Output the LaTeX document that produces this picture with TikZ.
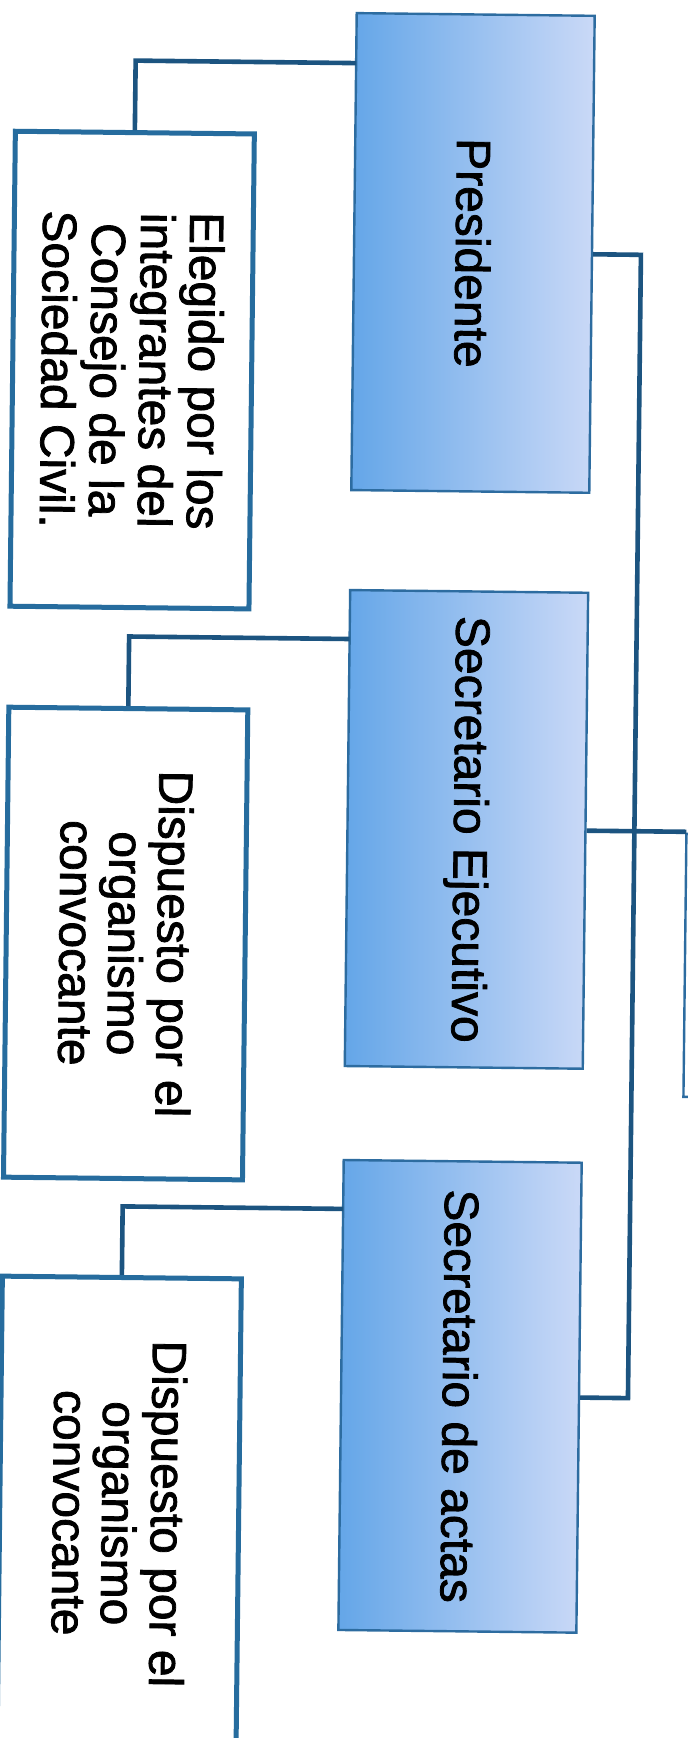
\documentclass[tikz,border=0pt]{standalone}
\usepackage{fontspec}
\setmainfont{Liberation Sans}[FakeBold=1.6]
\definecolor{bluel}{RGB}{100,166,232}
\definecolor{bluer}{RGB}{202,217,247}
\definecolor{boxedge}{RGB}{45,108,160}
\definecolor{wedge}{RGB}{38,108,158}
\definecolor{conncol}{RGB}{28,84,128}
\begin{document}
\begin{tikzpicture}[x=0.5pt,y=-0.5pt,
  bluebox/.style={draw=boxedge, line width=1.2pt, left color=bluel, right color=bluer, minimum width=119pt, inner sep=0pt},
  whitebox/.style={draw=wedge, line width=2.5pt, fill=white, minimum width=119.5pt, inner sep=0pt},
  lbl/.style={rotate=-90, align=center, font=\fontsize{24}{24.5}\selectfont, inner sep=0pt, text=black},
  conn/.style={draw=conncol, line width=2.3pt, line join=miter}
]
\useasboundingbox (0,0) rectangle (688,1738);
\fill[white] (0,0) rectangle (688,1738);
\clip (0,0) rectangle (688,1738);
\begin{scope}[rotate around={-0.65:(344,869)}, transform shape]
  % blue boxes
  \node[bluebox, minimum height=238.5pt] (pres) at (466,251.5) {};
  \node[bluebox, minimum height=238pt]   (sece) at (466,828) {};
  \node[bluebox, minimum height=235pt]   (seca) at (466,1395) {};
  % white boxes
  \node[whitebox, minimum height=237.5pt] (eleg)  at (126.5,372.5) {};
  \node[whitebox, minimum height=235pt]   (disp1) at (126.5,946) {};
  \node[whitebox, minimum height=236pt]   (disp2) at (126.5,1516) {};
  % cut-off box at the right edge
  \node[draw=boxedge, line width=1.2pt, minimum width=100pt, minimum height=131.5pt, inner sep=0pt] (cut) at (786,961.5) {};
  % labels
  \node[lbl] (tpres) at (pres.center) {Presidente};
  \node[lbl] (tsece) at (sece.center) {Secretario Ejecutivo};
  \node[lbl] (tseca) at (seca.center) {Secretario de actas};
  \node[lbl] (teleg) at (eleg.center) {Elegido por los\\integrantes del\\Consejo de la\\Sociedad Civil.};
  \node[lbl] (tdisp1) at (disp1.center) {Dispuesto por el\\organismo\\convocante};
  \node[lbl] (tdisp2) at (disp2.center) {Dispuesto por el\\organismo\\convocante};
  % connector points
  \coordinate (p1) at (347,63);
  \coordinate (c1) at (126.5,63);
  \coordinate (p2) at (347,639);
  \coordinate (c2) at (126.5,639);
  \coordinate (p3) at (347,1209);
  \coordinate (c3) at (126.5,1209);
  \coordinate (t1) at (634,251.5);
  \coordinate (t3) at (634,1395);
  \coordinate (cutc) at (686,828);
  % connectors
  \draw[conn] (p1) -- (c1) -- (eleg.north);
  \draw[conn] (p2) -- (c2) -- (disp1.north);
  \draw[conn] (p3) -- (c3) -- (disp2.north);
  \draw[conn] (pres.east) -- (t1) -- (t3) -- (seca.east);
  \draw[conn] (sece.east) -- (cutc);
\end{scope}
\end{tikzpicture}
\end{document}
